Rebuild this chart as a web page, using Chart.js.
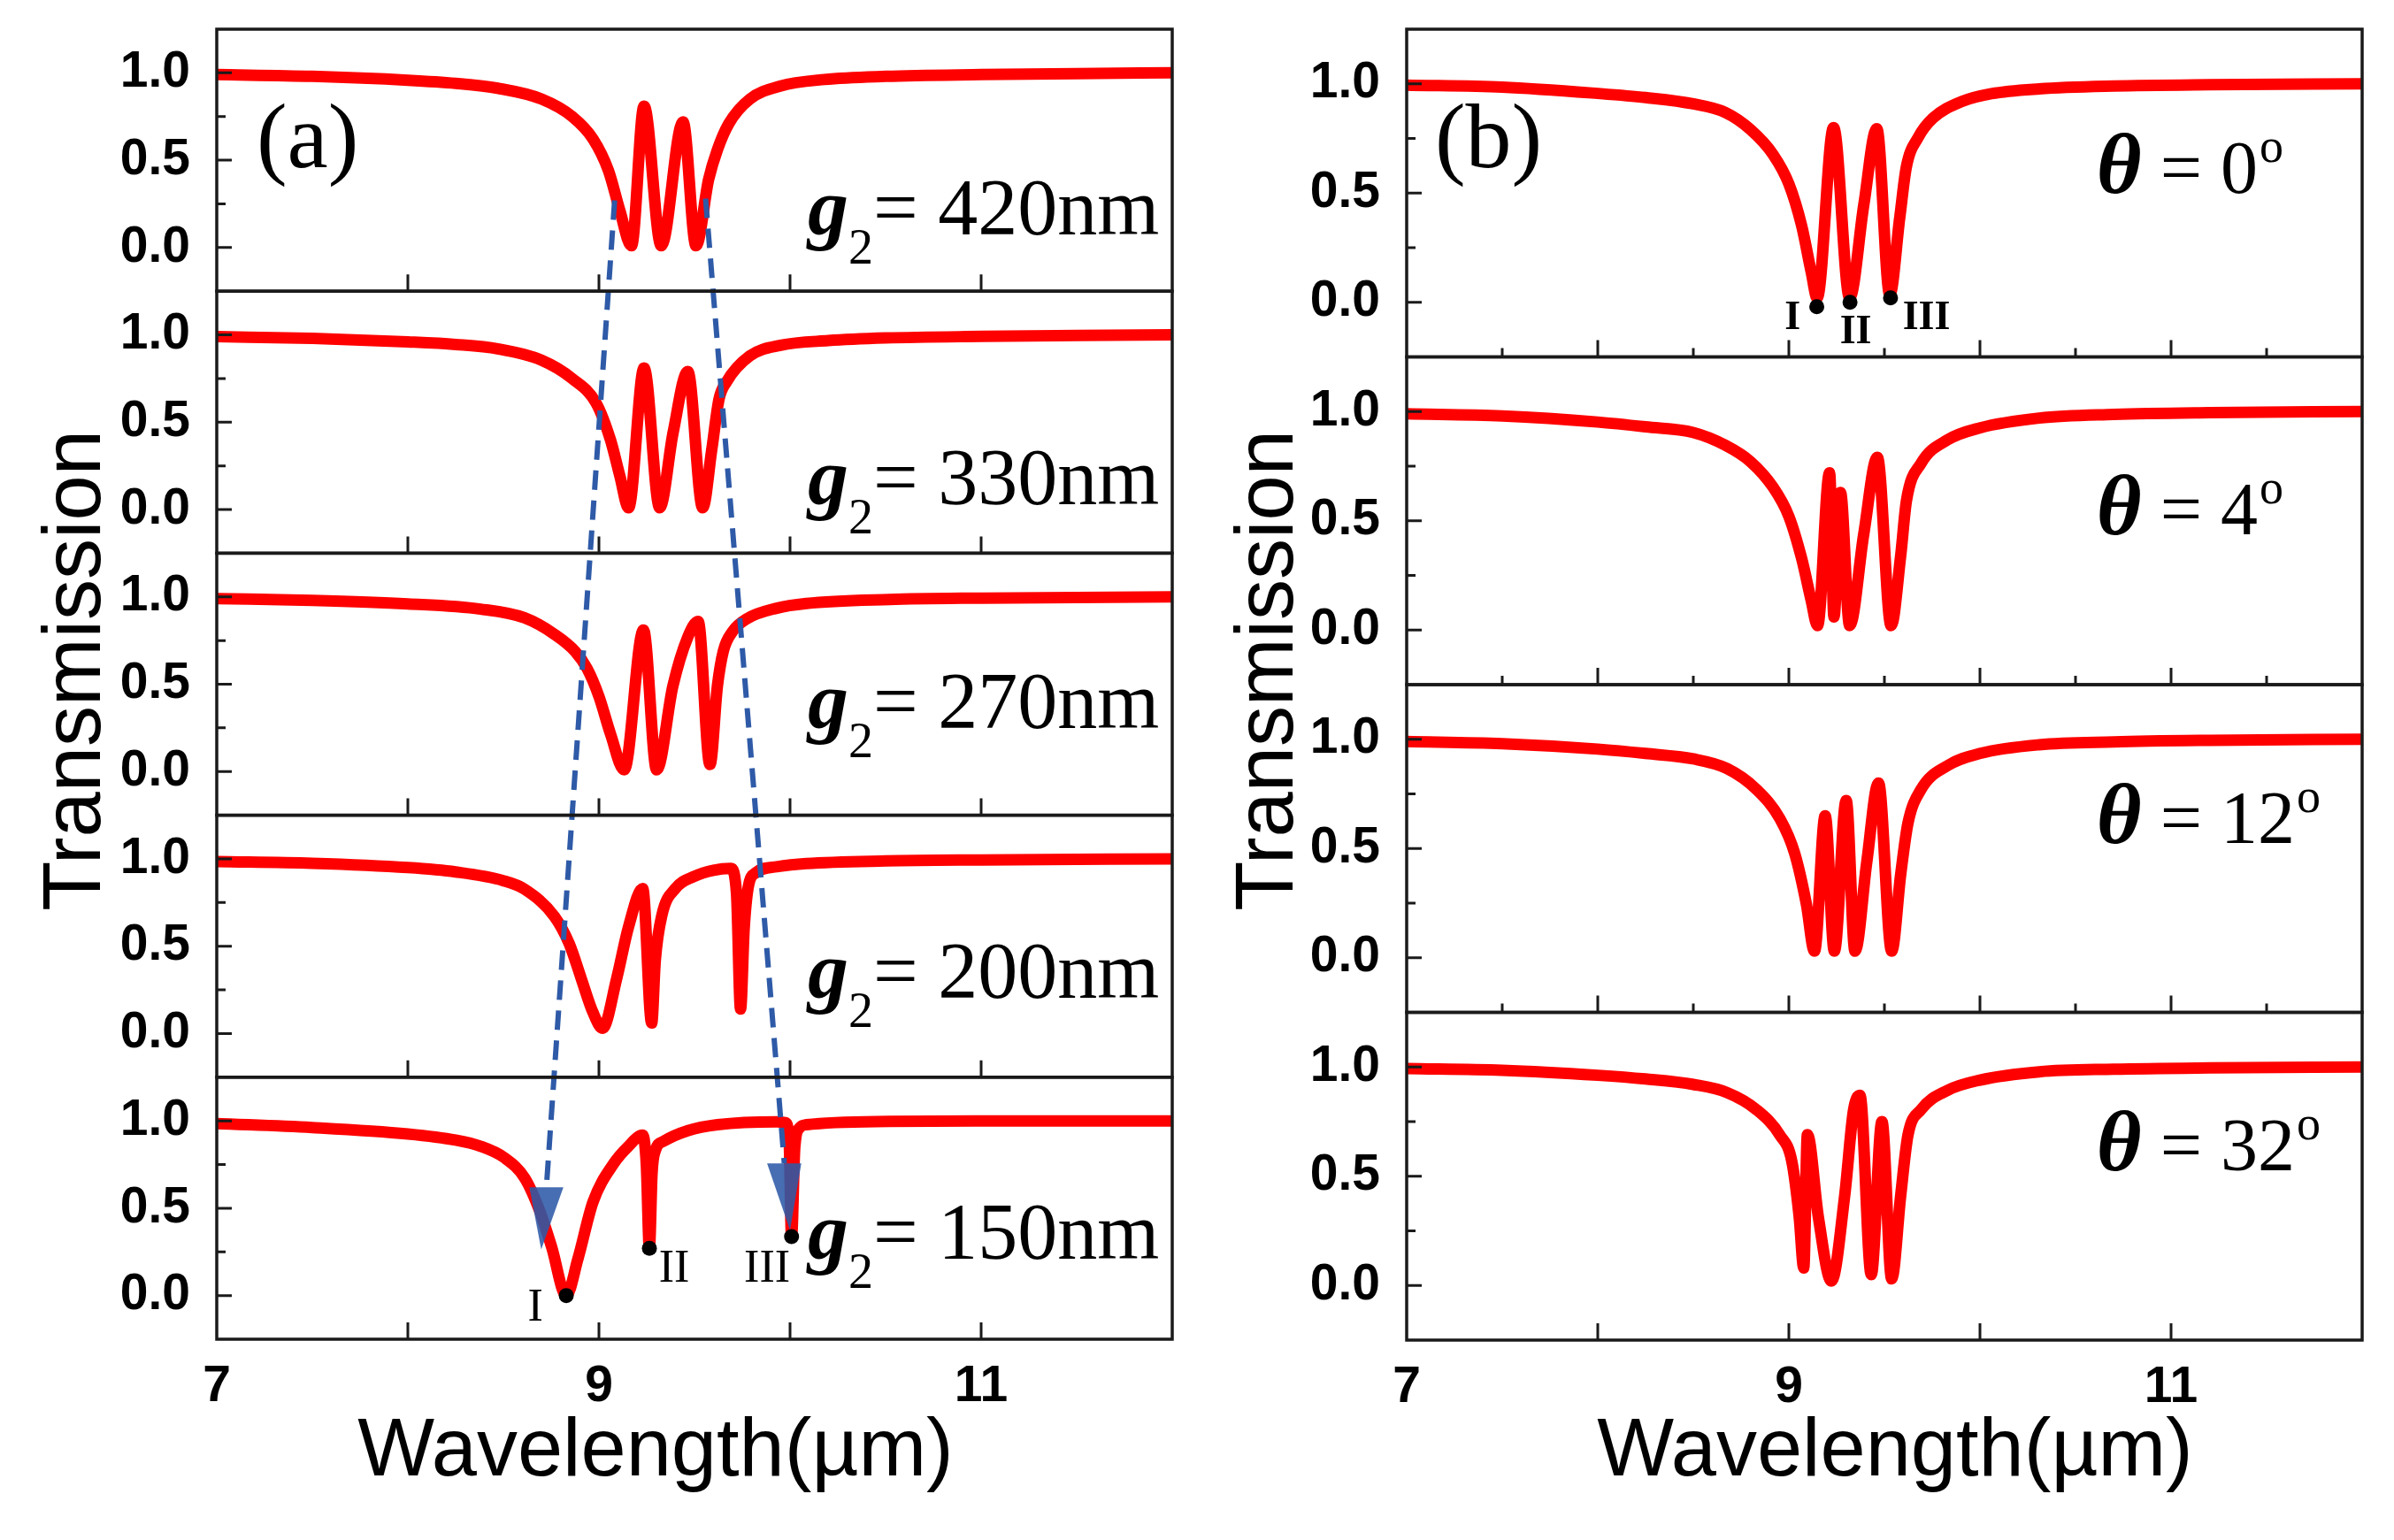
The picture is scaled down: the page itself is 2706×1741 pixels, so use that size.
<!DOCTYPE html>
<html>
<head>
<meta charset="utf-8">
<script src="https://cdn.jsdelivr.net/npm/chart.js@4.4.1/dist/chart.umd.min.js"></script>
<style>
  html, body { margin: 0; padding: 0; background: #fff; }
  #wrap { position: relative; width: 2706px; height: 1741px; overflow: hidden; }
  canvas { position: absolute; top: 0; }
</style>
</head>
<body>
<div id="wrap">
  <canvas id="panelA" width="1353" height="1741" style="left:0px"></canvas>
  <canvas id="panelB" width="1353" height="1741" style="left:1353px"></canvas>
</div>
<script>
// --- DATI ---
// asse x comune (lunghezza d'onda, um) e tacche
const xTickLabels = [7, 9, 11];
const xMajorTicks = [8, 9, 10, 11];
const xMinorTicksB = [7.5, 8.5, 9.5, 10.5, 11.5];
const yTickLabels = [0, 0.5, 1.0];
const yMinorTicks = [0.25, 0.75];

// (a) trasmissione al variare di g2
const gapLabels = ['420nm', '330nm', '270nm', '200nm', '150nm'];

const wlA420 = [7.0, 7.5, 8.0, 8.25, 8.47, 8.70, 8.86, 8.97, 9.05, 9.11, 9.17, 9.236, 9.326, 9.44, 9.508, 9.574, 9.62, 9.68, 9.79, 9.95, 10.18, 10.5, 11.0, 11.5, 12.0];
const trA420 = [0.99, 0.98, 0.958, 0.94, 0.912, 0.85, 0.75, 0.62, 0.44, 0.21, 0.01, 0.81, 0.01, 0.72, 0.01, 0.39, 0.56, 0.71, 0.85, 0.925, 0.962, 0.98, 0.99, 0.996, 1.0];

const wlA330 = [7.0, 7.5, 8.0, 8.25, 8.47, 8.70, 8.86, 8.985, 9.06, 9.11, 9.155, 9.236, 9.318, 9.388, 9.465, 9.543, 9.59, 9.628, 9.667, 9.79, 9.95, 10.2, 10.5, 11.0, 11.5, 12.0];
const trA330 = [0.99, 0.98, 0.96, 0.945, 0.92, 0.855, 0.75, 0.61, 0.40, 0.19, 0.01, 0.81, 0.01, 0.44, 0.79, 0.01, 0.34, 0.63, 0.73, 0.88, 0.94, 0.967, 0.982, 0.991, 0.996, 1.0];

const wlA270 = [7.0, 7.5, 8.0, 8.38, 8.61, 8.767, 8.876, 8.938, 9.0, 9.062, 9.132, 9.233, 9.302, 9.387, 9.465, 9.519, 9.581, 9.62, 9.651, 9.698, 9.775, 9.93, 10.085, 10.52, 11.0, 12.0];
const trA270 = [0.99, 0.98, 0.96, 0.93, 0.88, 0.786, 0.687, 0.59, 0.43, 0.21, 0.01, 0.81, 0.01, 0.49, 0.77, 0.86, 0.04, 0.49, 0.69, 0.80, 0.875, 0.935, 0.962, 0.985, 0.993, 1.0];

const wlA200 = [7.0, 7.5, 8.0, 8.25, 8.5, 8.61, 8.767, 8.845, 8.907, 8.969, 9.019, 9.093, 9.155, 9.229, 9.276, 9.295, 9.33, 9.40, 9.50, 9.60, 9.69, 9.72, 9.741, 9.76, 9.78, 9.82, 9.93, 10.085, 10.5, 11.0, 12.0];
const trA200 = [0.985, 0.975, 0.95, 0.925, 0.875, 0.827, 0.67, 0.513, 0.316, 0.12, 0.03, 0.316, 0.611, 0.83, 0.06, 0.42, 0.68, 0.83, 0.90, 0.935, 0.945, 0.80, 0.14, 0.60, 0.83, 0.92, 0.955, 0.973, 0.988, 0.994, 1.0];

const wlA150 = [7.0, 7.5, 8.0, 8.25, 8.38, 8.504, 8.612, 8.69, 8.752, 8.829, 8.89, 8.969, 9.078, 9.15, 9.229, 9.248, 9.264, 9.278, 9.295, 9.34, 9.465, 9.62, 9.93, 9.975, 9.995, 10.008, 10.025, 10.05, 10.085, 10.52, 11.0, 12.0];
const trA150 = [0.985, 0.962, 0.925, 0.89, 0.855, 0.79, 0.672, 0.485, 0.28, 0.0, 0.21, 0.536, 0.757, 0.85, 0.918, 0.75, 0.27, 0.70, 0.83, 0.884, 0.944, 0.978, 0.995, 0.99, 0.90, 0.337, 0.85, 0.96, 0.978, 0.997, 1.0, 1.0];

// modi I, II, III per g2 = 150nm
const modeWlA = [8.829, 9.264, 10.008];
const modeTrA = [0.0, 0.27, 0.337];
// punte di freccia (nel pannello g2 = 150nm)
const arrowLeftWl = [8.636, 8.814, 8.698, 8.636];
const arrowLeftTr = [0.62, 0.62, 0.264, 0.62];
const arrowRightWl = [9.88, 10.059, 10.0, 9.88];
const arrowRightTr = [0.757, 0.757, 0.374, 0.757];
// linee tratteggiate: asse yAll copre tutto il pannello (-0.25 .. 7.25, ogni sotto-grafico = 1.5)
const guideLeftWl = [9.082, 8.725];
const guideLeftY = [6.27, 0.62];
const guideRightWl = [9.558, 9.97];
const guideRightY = [6.28, 0.757];

// (b) trasmissione al variare di theta
const angleLabels = ['0', '4', '12', '32'];

const wlB0 = [7.0, 7.5, 8.0, 8.25, 8.5, 8.667, 8.8, 8.917, 9.0, 9.067, 9.117, 9.148, 9.234, 9.318, 9.392, 9.46, 9.528, 9.58, 9.615, 9.677, 9.754, 9.908, 10.06, 10.31, 10.7, 11.2, 12.0];
const trB0 = [0.994, 0.985, 0.956, 0.937, 0.908, 0.869, 0.79, 0.677, 0.542, 0.35, 0.138, 0.02, 0.80, 0.02, 0.445, 0.795, 0.035, 0.386, 0.62, 0.755, 0.843, 0.92, 0.955, 0.977, 0.99, 0.996, 1.0];

const wlB4 = [7.0, 7.5, 8.0, 8.25, 8.5, 8.667, 8.8, 8.917, 9.0, 9.067, 9.117, 9.15, 9.213, 9.236, 9.27, 9.318, 9.392, 9.463, 9.535, 9.585, 9.615, 9.692, 9.83, 10.0, 10.31, 10.7, 11.2, 12.0];
const trB4 = [0.99, 0.98, 0.952, 0.93, 0.904, 0.846, 0.77, 0.654, 0.52, 0.327, 0.135, 0.02, 0.72, 0.06, 0.63, 0.02, 0.44, 0.79, 0.02, 0.339, 0.59, 0.763, 0.87, 0.925, 0.97, 0.987, 0.995, 1.0];

const wlB12 = [7.0, 7.5, 8.0, 8.25, 8.5, 8.677, 8.83, 8.954, 9.03, 9.092, 9.134, 9.19, 9.238, 9.30, 9.346, 9.408, 9.469, 9.538, 9.585, 9.623, 9.692, 9.83, 10.0, 10.31, 10.7, 11.2, 12.0];
const trB12 = [0.99, 0.98, 0.955, 0.935, 0.91, 0.866, 0.771, 0.635, 0.479, 0.244, 0.03, 0.65, 0.03, 0.72, 0.03, 0.44, 0.80, 0.03, 0.38, 0.615, 0.771, 0.879, 0.935, 0.975, 0.988, 0.995, 1.0];

const wlB32 = [7.0, 7.5, 8.0, 8.25, 8.5, 8.677, 8.83, 8.954, 9.015, 9.054, 9.078, 9.097, 9.154, 9.223, 9.292, 9.338, 9.372, 9.431, 9.487, 9.538, 9.585, 9.623, 9.692, 9.83, 10.0, 10.31, 10.7, 11.2, 12.0];
const trB32 = [0.993, 0.985, 0.962, 0.945, 0.92, 0.883, 0.805, 0.687, 0.57, 0.315, 0.08, 0.69, 0.315, 0.02, 0.41, 0.80, 0.87, 0.05, 0.75, 0.03, 0.41, 0.687, 0.805, 0.893, 0.94, 0.978, 0.99, 0.996, 1.0];

// modi I, II, III per theta = 0
const modeWlB = [9.146, 9.32, 9.532];
const modeTrB = [-0.02, 0.0, 0.02];

// --- STILE ---
const serif = '"Liberation Serif", "Times New Roman", serif';
const sans = '"Liberation Sans", Arial, sans-serif';
const RED = '#ff0000';
const BLUE = '#2e5aa7';

const pts = (xs, ys) => xs.map((x, i) => ({ x: x, y: ys[i] }));

function drawRuns(ctx, x, y, runs) {
    let cx = x;
    runs.forEach(r => {
        ctx.font = r.font;
        ctx.fillText(r.text, cx + (r.dx || 0), y + (r.dy || 0));
        cx += ctx.measureText(r.text).width + (r.dx || 0);
    });
}

// bordi, tacche interne e testi di ogni pannello
function makeDeco(p) {
    return {
        id: 'deco',
        afterDraw(chart) {
            const ctx = chart.ctx, xs = chart.scales.x, area = chart.chartArea;
            ctx.save();
            ctx.strokeStyle = '#1a1a1a';
            p.subs.forEach((id, k) => {
                const ys = chart.scales[id];
                ctx.lineWidth = 3;
                ctx.beginPath();
                xMajorTicks.forEach(v => {
                    const px = xs.getPixelForValue(v);
                    ctx.moveTo(px, ys.bottom); ctx.lineTo(px, ys.bottom - 19);
                });
                if (p.xMinor && k < p.minorUntil) {
                    p.xMinor.forEach(v => {
                        const px = xs.getPixelForValue(v);
                        ctx.moveTo(px, ys.bottom); ctx.lineTo(px, ys.bottom - 10);
                    });
                }
                yTickLabels.forEach(v => {
                    const py = ys.getPixelForValue(v);
                    ctx.moveTo(area.left, py); ctx.lineTo(area.left + 17, py);
                });
                yMinorTicks.forEach(v => {
                    const py = ys.getPixelForValue(v);
                    ctx.moveTo(area.left, py); ctx.lineTo(area.left + 10, py);
                });
                ctx.stroke();
                ctx.lineWidth = 3.5;
                ctx.strokeRect(area.left, ys.top, area.right - area.left, ys.bottom - ys.top);
            });

            ctx.fillStyle = '#000';
            p.labels.forEach(l => {
                const ys = chart.scales[l.sub];
                ctx.textAlign = l.align || 'left';
                ctx.textBaseline = l.baseline || 'alphabetic';
                drawRuns(ctx, xs.getPixelForValue(l.x), ys.getPixelForValue(l.y), l.runs);
            });

            // titoli degli assi
            ctx.font = '92px ' + sans;
            ctx.textAlign = 'center';
            ctx.textBaseline = 'alphabetic';
            ctx.fillText('Wavelength(\u00b5m)', p.xTitle[0], p.xTitle[1]);
            ctx.translate(p.yTitle[0], p.yTitle[1]);
            ctx.rotate(-Math.PI / 2);
            ctx.fillText('Transmission', 0, 0);
            ctx.restore();
        }
    };
}

function buildScales(n, pad) {
    const tickFont = { family: sans, size: 57, weight: 'bold' };
    const scales = {
        x: {
            type: 'linear', position: 'bottom', min: 7, max: 12,
            grid: { display: false }, border: { display: false },
            afterBuildTicks: s => { s.ticks = xTickLabels.map(v => ({ value: v })); },
            ticks: { font: tickFont, color: '#000', padding: 12, autoSkip: false, maxRotation: 0, callback: v => String(v) },
            afterFit: s => { s.height = pad.xAxisH; s.paddingLeft = 0; s.paddingRight = 0; }
        },
        yAll: { type: 'linear', position: 'left', display: false, min: -0.25, max: 1.5 * n - 0.25, weight: 0 }
    };
    for (let k = 0; k < n; k++) {
        scales['y' + k] = {
            type: 'linear', position: 'left', stack: 'sub', stackWeight: 1, weight: 10 - k,
            min: -0.25, max: 1.25,
            grid: { display: false }, border: { display: false },
            afterBuildTicks: s => { s.ticks = yTickLabels.map(v => ({ value: v })); },
            ticks: { font: tickFont, color: '#000', padding: 22, autoSkip: false, callback: v => v.toFixed(1) },
            afterFit: s => { s.width = 150; s.paddingTop = 0; s.paddingBottom = 0; }
        };
    }
    return scales;
}

function makePanel(canvasId, cfg) {
    const n = cfg.curves.length;
    const datasets = cfg.extra.slice();
    cfg.curves.forEach((c, k) => {
        datasets.push({
            data: pts(c[0], c[1]), yAxisID: 'y' + k,
            borderColor: RED, borderWidth: 13, pointRadius: 0,
            cubicInterpolationMode: 'monotone', borderJoinStyle: 'round', fill: false, order: 5
        });
    });
    new Chart(document.getElementById(canvasId), {
        type: 'line',
        data: { datasets: datasets },
        options: {
            responsive: false,
            animation: false,
            layout: { autoPadding: false, padding: { left: cfg.pad.left, right: cfg.pad.right, top: cfg.pad.top, bottom: 0 } },
            plugins: { legend: { display: false }, tooltip: { enabled: false } },
            scales: buildScales(n, cfg.pad)
        },
        plugins: [makeDeco(cfg.deco)]
    });
}

// --- PANNELLO (a) ---
const gapBaselines = [0.075, 0.03, 0.25, 0.205, 0.21];
const labelsA = gapLabels.map((g, k) => ({
    sub: 'y' + k, x: 10.093, y: gapBaselines[k],
    runs: [
        { text: 'g', font: 'italic bold 92px ' + serif },
        { text: '2', font: '56px ' + serif, dy: 33 },
        { text: '= ' + g, font: '90px ' + serif }
    ]
}));
labelsA.push({ sub: 'y0', x: 7.208, y: 0.46, runs: [{ text: '(a)', font: '104px ' + serif }] });
['I', 'II', 'III'].forEach((t, i) => {
    const pos = [[8.667, -0.077], [9.394, 0.15], [9.88, 0.15]][i];
    labelsA.push({ sub: 'y4', x: pos[0], y: pos[1], align: 'center', baseline: 'middle', runs: [{ text: t, font: '52px ' + serif }] });
});

makePanel('panelA', {
    curves: [[wlA420, trA420], [wlA330, trA330], [wlA270, trA270], [wlA200, trA200], [wlA150, trA150]],
    pad: { left: 95, right: 28, top: 33, xAxisH: 227 },
    extra: [
        { data: pts(modeWlA, modeTrA), yAxisID: 'y4', showLine: false, pointRadius: 8.5, pointBackgroundColor: '#000', pointBorderWidth: 0, order: 0 },
        { data: pts(arrowLeftWl, arrowLeftTr), yAxisID: 'y4', fill: 'shape', backgroundColor: 'rgba(46,90,167,0.88)', borderWidth: 0, pointRadius: 0, order: 1 },
        { data: pts(arrowRightWl, arrowRightTr), yAxisID: 'y4', fill: 'shape', backgroundColor: 'rgba(46,90,167,0.88)', borderWidth: 0, pointRadius: 0, order: 1 },
        { data: pts(guideLeftWl, guideLeftY), yAxisID: 'yAll', borderColor: BLUE, borderWidth: 6, borderDash: [22, 12], pointRadius: 0, order: 2 },
        { data: pts(guideRightWl, guideRightY), yAxisID: 'yAll', borderColor: BLUE, borderWidth: 6, borderDash: [22, 12], pointRadius: 0, order: 2 }
    ],
    deco: { subs: ['y0', 'y1', 'y2', 'y3', 'y4'], xMinor: null, minorUntil: 0, labels: labelsA, xTitle: [741, 1668], yTitle: [113, 758] }
});

// --- PANNELLO (b) ---
const angleBaselines = [0.50, 0.44, 0.525, 0.527];
const labelsB = angleLabels.map((a, k) => ({
    sub: 'y' + k, x: 10.61, y: angleBaselines[k],
    runs: [
        { text: '\u03b8', font: 'italic bold 98px ' + serif },
        { text: ' = ' + a, font: '84px ' + serif },
        { text: 'o', font: '54px ' + serif, dy: -35, dx: 2 }
    ]
}));
labelsB.push({ sub: 'y0', x: 7.148, y: 0.618, runs: [{ text: '(b)', font: '104px ' + serif }] });
['I', 'II', 'III'].forEach((t, i) => {
    const pos = [[9.02, -0.075], [9.35, -0.138], [9.72, -0.075]][i];
    labelsB.push({ sub: 'y0', x: pos[0], y: pos[1], align: 'center', baseline: 'middle', runs: [{ text: t, font: 'bold 46px ' + serif }] });
});

makePanel('panelB', {
    curves: [[wlB0, trB0], [wlB4, trB4], [wlB12, trB12], [wlB32, trB32]],
    pad: { left: 87, right: 36, top: 33, xAxisH: 226 },
    extra: [
        { data: pts(modeWlB, modeTrB), yAxisID: 'y0', showLine: false, pointRadius: 8.5, pointBackgroundColor: '#000', pointBorderWidth: 0, order: 0 }
    ],
    deco: { subs: ['y0', 'y1', 'y2', 'y3'], xMinor: xMinorTicksB, minorUntil: 3, labels: labelsB, xTitle: [789, 1668], yTitle: [108, 758] }
});
</script>
</body>
</html>
